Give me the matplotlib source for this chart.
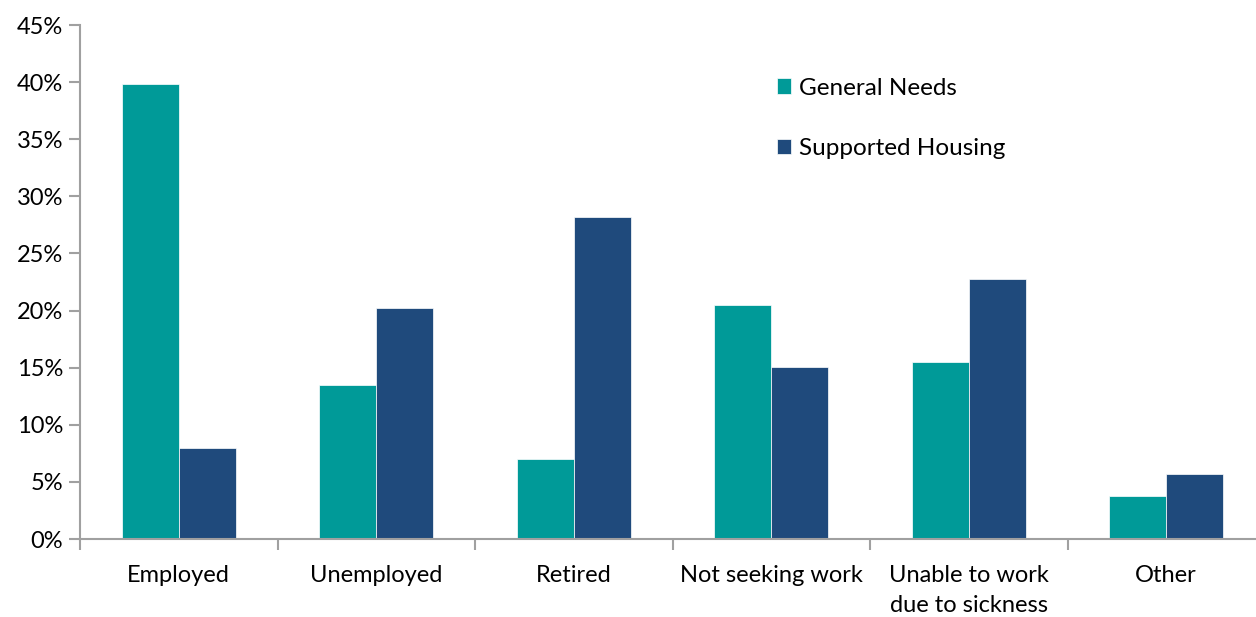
import matplotlib
matplotlib.use("Agg")
import matplotlib.pyplot as plt
import numpy as np
from matplotlib.ticker import PercentFormatter, FixedLocator

plt.rcParams['font.family'] = ['Lato', 'DejaVu Sans']

categories = ['Employed', 'Unemployed', 'Retired', 'Not seeking work',
              'Unable to work\ndue to sickness', 'Other']
general_needs = [39.8, 13.5, 7.0, 20.5, 15.5, 3.8]
supported_housing = [8.0, 20.2, 28.2, 15.1, 22.8, 5.7]

teal = '#009A98'
navy = '#1F4A7C'
grey = '#A0A0A0'

fig = plt.figure(figsize=(12.56, 6.17), dpi=100)
ax = fig.add_axes([80/1256, 78/617, 1185/1256, 514/617])

x = np.arange(len(categories))
w = 0.289
ax.bar(x - w/2, general_needs, w, color=teal, label='General Needs',
       edgecolor='white', linewidth=0.5)
ax.bar(x + w/2, supported_housing, w, color=navy, label='Supported Housing',
       edgecolor='white', linewidth=0.5)

ax.set_xlim(-0.5, len(categories) - 0.5)
ax.set_ylim(0, 45)
ax.set_yticks(np.arange(0, 46, 5))
ax.yaxis.set_major_formatter(PercentFormatter(decimals=0))

# category labels in the middle, ticks on the group boundaries
ax.set_xticks(x)
ax.set_xticklabels(categories, linespacing=1.53)
ax.tick_params(axis='x', which='major', length=0, pad=19, labelsize=17)
ax.xaxis.set_minor_locator(FixedLocator(np.arange(-0.5, len(categories), 1)))
ax.tick_params(axis='x', which='minor', length=8, color=grey, width=1.5)
ax.tick_params(axis='y', length=8, color=grey, width=1.5, labelsize=17, pad=4)

for s in ['top', 'right']:
    ax.spines[s].set_visible(False)
for s in ['left', 'bottom']:
    ax.spines[s].set_color(grey)
    ax.spines[s].set_linewidth(1.5)

ax.legend(loc='upper left', bbox_to_anchor=(0.5695, 0.94), frameon=False,
          fontsize=17.5, handlelength=0.6, handleheight=0.6, handletextpad=0.3,
          labelspacing=1.61)

fig.savefig('out.png', dpi=100)
